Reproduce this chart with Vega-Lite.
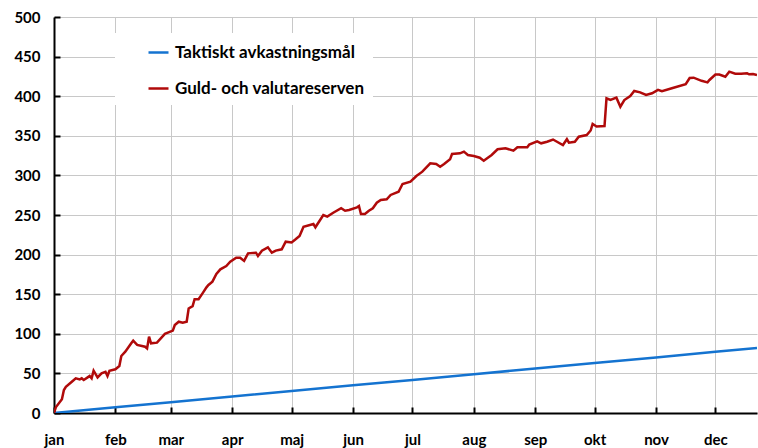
{
  "$schema": "https://vega.github.io/schema/vega-lite/v6.json",
  "width": 703,
  "height": 396,
  "autosize": {"type": "none"},
  "padding": {"left": 54, "top": 17, "right": 1, "bottom": 35},
  "background": "white",
  "config": {
    "view": {"stroke": null},
    "font": "Lato",
    "axis": {
      "labelFont": "Lato",
      "labelFontWeight": "bold",
      "labelFontSize": 15,
      "labelColor": "black",
      "domainColor": "black",
      "domainWidth": 2,
      "tickColor": "black",
      "tickWidth": 2,
      "tickSize": -6,
      "gridColor": "#c8c8c8",
      "gridWidth": 1,
      "title": null
    }
  },
  "data": {
    "values": [
      {"date": "2011-01-01", "value": 0, "series": "Taktiskt avkastningsmål"},
      {"date": "2011-02-01", "value": 7.2, "series": "Taktiskt avkastningsmål"},
      {"date": "2011-03-01", "value": 13.6, "series": "Taktiskt avkastningsmål"},
      {"date": "2011-04-01", "value": 20.8, "series": "Taktiskt avkastningsmål"},
      {"date": "2011-05-01", "value": 27.7, "series": "Taktiskt avkastningsmål"},
      {"date": "2011-06-01", "value": 34.9, "series": "Taktiskt avkastningsmål"},
      {"date": "2011-07-01", "value": 41.8, "series": "Taktiskt avkastningsmål"},
      {"date": "2011-08-01", "value": 49.0, "series": "Taktiskt avkastningsmål"},
      {"date": "2011-09-01", "value": 56.1, "series": "Taktiskt avkastningsmål"},
      {"date": "2011-10-01", "value": 63.1, "series": "Taktiskt avkastningsmål"},
      {"date": "2011-11-01", "value": 70.2, "series": "Taktiskt avkastningsmål"},
      {"date": "2011-12-01", "value": 77.2, "series": "Taktiskt avkastningsmål"},
      {"date": "2011-12-22", "value": 82, "series": "Taktiskt avkastningsmål"},
      {"date": "2011-01-01", "value": 0, "series": "Guld- och valutareserven"},
      {"date": "2011-01-02", "value": 7.6, "series": "Guld- och valutareserven"},
      {"date": "2011-01-05", "value": 17.3, "series": "Guld- och valutareserven"},
      {"date": "2011-01-06", "value": 29, "series": "Guld- och valutareserven"},
      {"date": "2011-01-07", "value": 33, "series": "Guld- och valutareserven"},
      {"date": "2011-01-10", "value": 39.5, "series": "Guld- och valutareserven"},
      {"date": "2011-01-12", "value": 43.8, "series": "Guld- och valutareserven"},
      {"date": "2011-01-14", "value": 42.5, "series": "Guld- och valutareserven"},
      {"date": "2011-01-15", "value": 43.8, "series": "Guld- och valutareserven"},
      {"date": "2011-01-16", "value": 41.7, "series": "Guld- och valutareserven"},
      {"date": "2011-01-18", "value": 45, "series": "Guld- och valutareserven"},
      {"date": "2011-01-19", "value": 46.7, "series": "Guld- och valutareserven"},
      {"date": "2011-01-20", "value": 43.8, "series": "Guld- och valutareserven"},
      {"date": "2011-01-21", "value": 53.4, "series": "Guld- och valutareserven"},
      {"date": "2011-01-23", "value": 45, "series": "Guld- och valutareserven"},
      {"date": "2011-01-25", "value": 50, "series": "Guld- och valutareserven"},
      {"date": "2011-01-27", "value": 52, "series": "Guld- och valutareserven"},
      {"date": "2011-01-28", "value": 46.7, "series": "Guld- och valutareserven"},
      {"date": "2011-01-29", "value": 53.4, "series": "Guld- och valutareserven"},
      {"date": "2011-02-01", "value": 55.2, "series": "Guld- och valutareserven"},
      {"date": "2011-02-03", "value": 59.3, "series": "Guld- och valutareserven"},
      {"date": "2011-02-04", "value": 72, "series": "Guld- och valutareserven"},
      {"date": "2011-02-06", "value": 77.4, "series": "Guld- och valutareserven"},
      {"date": "2011-02-09", "value": 88, "series": "Guld- och valutareserven"},
      {"date": "2011-02-10", "value": 91.3, "series": "Guld- och valutareserven"},
      {"date": "2011-02-12", "value": 85.9, "series": "Guld- och valutareserven"},
      {"date": "2011-02-16", "value": 83.7, "series": "Guld- och valutareserven"},
      {"date": "2011-02-17", "value": 81.5, "series": "Guld- och valutareserven"},
      {"date": "2011-02-18", "value": 96.3, "series": "Guld- och valutareserven"},
      {"date": "2011-02-19", "value": 88, "series": "Guld- och valutareserven"},
      {"date": "2011-02-22", "value": 88.8, "series": "Guld- och valutareserven"},
      {"date": "2011-02-26", "value": 100, "series": "Guld- och valutareserven"},
      {"date": "2011-03-02", "value": 104, "series": "Guld- och valutareserven"},
      {"date": "2011-03-03", "value": 111, "series": "Guld- och valutareserven"},
      {"date": "2011-03-05", "value": 115.3, "series": "Guld- och valutareserven"},
      {"date": "2011-03-07", "value": 114, "series": "Guld- och valutareserven"},
      {"date": "2011-03-09", "value": 115.3, "series": "Guld- och valutareserven"},
      {"date": "2011-03-10", "value": 132, "series": "Guld- och valutareserven"},
      {"date": "2011-03-12", "value": 135, "series": "Guld- och valutareserven"},
      {"date": "2011-03-13", "value": 143.6, "series": "Guld- och valutareserven"},
      {"date": "2011-03-15", "value": 143.6, "series": "Guld- och valutareserven"},
      {"date": "2011-03-17", "value": 151, "series": "Guld- och valutareserven"},
      {"date": "2011-03-19", "value": 158.7, "series": "Guld- och valutareserven"},
      {"date": "2011-03-20", "value": 161.6, "series": "Guld- och valutareserven"},
      {"date": "2011-03-22", "value": 165.8, "series": "Guld- och valutareserven"},
      {"date": "2011-03-24", "value": 175.5, "series": "Guld- och valutareserven"},
      {"date": "2011-03-26", "value": 181.4, "series": "Guld- och valutareserven"},
      {"date": "2011-03-29", "value": 185.6, "series": "Guld- och valutareserven"},
      {"date": "2011-03-31", "value": 191, "series": "Guld- och valutareserven"},
      {"date": "2011-04-03", "value": 196, "series": "Guld- och valutareserven"},
      {"date": "2011-04-05", "value": 196, "series": "Guld- och valutareserven"},
      {"date": "2011-04-07", "value": 192, "series": "Guld- och valutareserven"},
      {"date": "2011-04-09", "value": 201.6, "series": "Guld- och valutareserven"},
      {"date": "2011-04-13", "value": 202.4, "series": "Guld- och valutareserven"},
      {"date": "2011-04-14", "value": 198.2, "series": "Guld- och valutareserven"},
      {"date": "2011-04-16", "value": 205, "series": "Guld- och valutareserven"},
      {"date": "2011-04-19", "value": 209.2, "series": "Guld- och valutareserven"},
      {"date": "2011-04-21", "value": 202.4, "series": "Guld- och valutareserven"},
      {"date": "2011-04-23", "value": 205, "series": "Guld- och valutareserven"},
      {"date": "2011-04-26", "value": 206.7, "series": "Guld- och valutareserven"},
      {"date": "2011-04-28", "value": 216.3, "series": "Guld- och valutareserven"},
      {"date": "2011-05-01", "value": 215.3, "series": "Guld- och valutareserven"},
      {"date": "2011-05-03", "value": 219.3, "series": "Guld- och valutareserven"},
      {"date": "2011-05-05", "value": 223.5, "series": "Guld- och valutareserven"},
      {"date": "2011-05-07", "value": 235.2, "series": "Guld- och valutareserven"},
      {"date": "2011-05-12", "value": 238.6, "series": "Guld- och valutareserven"},
      {"date": "2011-05-13", "value": 234.5, "series": "Guld- och valutareserven"},
      {"date": "2011-05-17", "value": 250, "series": "Guld- och valutareserven"},
      {"date": "2011-05-19", "value": 247.9, "series": "Guld- och valutareserven"},
      {"date": "2011-05-22", "value": 252.9, "series": "Guld- och valutareserven"},
      {"date": "2011-05-26", "value": 258.5, "series": "Guld- och valutareserven"},
      {"date": "2011-05-28", "value": 255.4, "series": "Guld- och valutareserven"},
      {"date": "2011-05-30", "value": 256.3, "series": "Guld- och valutareserven"},
      {"date": "2011-06-03", "value": 259.7, "series": "Guld- och valutareserven"},
      {"date": "2011-06-04", "value": 261.4, "series": "Guld- och valutareserven"},
      {"date": "2011-06-05", "value": 251.3, "series": "Guld- och valutareserven"},
      {"date": "2011-06-07", "value": 251.3, "series": "Guld- och valutareserven"},
      {"date": "2011-06-09", "value": 255.4, "series": "Guld- och valutareserven"},
      {"date": "2011-06-11", "value": 258.5, "series": "Guld- och valutareserven"},
      {"date": "2011-06-13", "value": 265.5, "series": "Guld- och valutareserven"},
      {"date": "2011-06-15", "value": 269, "series": "Guld- och valutareserven"},
      {"date": "2011-06-18", "value": 269.8, "series": "Guld- och valutareserven"},
      {"date": "2011-06-20", "value": 275.3, "series": "Guld- och valutareserven"},
      {"date": "2011-06-24", "value": 279.4, "series": "Guld- och valutareserven"},
      {"date": "2011-06-26", "value": 289.1, "series": "Guld- och valutareserven"},
      {"date": "2011-06-30", "value": 292, "series": "Guld- och valutareserven"},
      {"date": "2011-07-03", "value": 299.2, "series": "Guld- och valutareserven"},
      {"date": "2011-07-06", "value": 304.7, "series": "Guld- och valutareserven"},
      {"date": "2011-07-10", "value": 315.3, "series": "Guld- och valutareserven"},
      {"date": "2011-07-13", "value": 314.4, "series": "Guld- och valutareserven"},
      {"date": "2011-07-15", "value": 311, "series": "Guld- och valutareserven"},
      {"date": "2011-07-17", "value": 314.4, "series": "Guld- och valutareserven"},
      {"date": "2011-07-20", "value": 320.3, "series": "Guld- och valutareserven"},
      {"date": "2011-07-21", "value": 327, "series": "Guld- och valutareserven"},
      {"date": "2011-07-25", "value": 327.9, "series": "Guld- och valutareserven"},
      {"date": "2011-07-27", "value": 330, "series": "Guld- och valutareserven"},
      {"date": "2011-07-29", "value": 325.8, "series": "Guld- och valutareserven"},
      {"date": "2011-08-01", "value": 324.5, "series": "Guld- och valutareserven"},
      {"date": "2011-08-04", "value": 322.3, "series": "Guld- och valutareserven"},
      {"date": "2011-08-06", "value": 318.6, "series": "Guld- och valutareserven"},
      {"date": "2011-08-10", "value": 325.8, "series": "Guld- och valutareserven"},
      {"date": "2011-08-13", "value": 333, "series": "Guld- och valutareserven"},
      {"date": "2011-08-17", "value": 334.2, "series": "Guld- och valutareserven"},
      {"date": "2011-08-21", "value": 331.2, "series": "Guld- och valutareserven"},
      {"date": "2011-08-23", "value": 335.5, "series": "Guld- och valutareserven"},
      {"date": "2011-08-28", "value": 335.5, "series": "Guld- och valutareserven"},
      {"date": "2011-08-29", "value": 339, "series": "Guld- och valutareserven"},
      {"date": "2011-09-02", "value": 343, "series": "Guld- och valutareserven"},
      {"date": "2011-09-04", "value": 340.5, "series": "Guld- och valutareserven"},
      {"date": "2011-09-07", "value": 342.5, "series": "Guld- och valutareserven"},
      {"date": "2011-09-10", "value": 345.3, "series": "Guld- och valutareserven"},
      {"date": "2011-09-12", "value": 342.5, "series": "Guld- och valutareserven"},
      {"date": "2011-09-15", "value": 338.4, "series": "Guld- och valutareserven"},
      {"date": "2011-09-17", "value": 345.7, "series": "Guld- och valutareserven"},
      {"date": "2011-09-18", "value": 341.3, "series": "Guld- och valutareserven"},
      {"date": "2011-09-21", "value": 342.5, "series": "Guld- och valutareserven"},
      {"date": "2011-09-23", "value": 348.9, "series": "Guld- och valutareserven"},
      {"date": "2011-09-27", "value": 351, "series": "Guld- och valutareserven"},
      {"date": "2011-09-29", "value": 356.7, "series": "Guld- och valutareserven"},
      {"date": "2011-09-30", "value": 364.9, "series": "Guld- och valutareserven"},
      {"date": "2011-10-02", "value": 361.7, "series": "Guld- och valutareserven"},
      {"date": "2011-10-06", "value": 362.4, "series": "Guld- och valutareserven"},
      {"date": "2011-10-07", "value": 397.3, "series": "Guld- och valutareserven"},
      {"date": "2011-10-09", "value": 395.2, "series": "Guld- och valutareserven"},
      {"date": "2011-10-12", "value": 398.1, "series": "Guld- och valutareserven"},
      {"date": "2011-10-14", "value": 386.7, "series": "Guld- och valutareserven"},
      {"date": "2011-10-16", "value": 395.2, "series": "Guld- och valutareserven"},
      {"date": "2011-10-19", "value": 400.3, "series": "Guld- och valutareserven"},
      {"date": "2011-10-21", "value": 406.6, "series": "Guld- och valutareserven"},
      {"date": "2011-10-24", "value": 404.9, "series": "Guld- och valutareserven"},
      {"date": "2011-10-27", "value": 401.5, "series": "Guld- och valutareserven"},
      {"date": "2011-10-30", "value": 403.7, "series": "Guld- och valutareserven"},
      {"date": "2011-11-02", "value": 408, "series": "Guld- och valutareserven"},
      {"date": "2011-11-04", "value": 406.2, "series": "Guld- och valutareserven"},
      {"date": "2011-11-09", "value": 410, "series": "Guld- och valutareserven"},
      {"date": "2011-11-16", "value": 415.2, "series": "Guld- och valutareserven"},
      {"date": "2011-11-18", "value": 423, "series": "Guld- och valutareserven"},
      {"date": "2011-11-20", "value": 423.4, "series": "Guld- och valutareserven"},
      {"date": "2011-11-24", "value": 419.4, "series": "Guld- och valutareserven"},
      {"date": "2011-11-27", "value": 417.5, "series": "Guld- och valutareserven"},
      {"date": "2011-11-28", "value": 420.5, "series": "Guld- och valutareserven"},
      {"date": "2011-12-01", "value": 427.4, "series": "Guld- och valutareserven"},
      {"date": "2011-12-03", "value": 427.4, "series": "Guld- och valutareserven"},
      {"date": "2011-12-06", "value": 424.6, "series": "Guld- och valutareserven"},
      {"date": "2011-12-08", "value": 431, "series": "Guld- och valutareserven"},
      {"date": "2011-12-11", "value": 428.4, "series": "Guld- och valutareserven"},
      {"date": "2011-12-14", "value": 428.4, "series": "Guld- och valutareserven"},
      {"date": "2011-12-17", "value": 428.9, "series": "Guld- och valutareserven"},
      {"date": "2011-12-18", "value": 427.7, "series": "Guld- och valutareserven"},
      {"date": "2011-12-20", "value": 428, "series": "Guld- och valutareserven"},
      {"date": "2011-12-22", "value": 426.8, "series": "Guld- och valutareserven"}
    ]
  },
  "mark": {"type": "line", "strokeWidth": 2.5, "clip": true},
  "encoding": {
    "x": {
      "field": "date",
      "type": "temporal",
      "scale": {
        "type": "utc",
        "domain": [
          {"year": 2011, "month": 1, "date": 1, "utc": true},
          {"year": 2011, "month": 12, "date": 22, "utc": true}
        ]
      },
      "axis": {
        "values": [
          {"year": 2011, "month": 1, "date": 1, "utc": true},
          {"year": 2011, "month": 2, "date": 1, "utc": true},
          {"year": 2011, "month": 3, "date": 1, "utc": true},
          {"year": 2011, "month": 4, "date": 1, "utc": true},
          {"year": 2011, "month": 5, "date": 1, "utc": true},
          {"year": 2011, "month": 6, "date": 1, "utc": true},
          {"year": 2011, "month": 7, "date": 1, "utc": true},
          {"year": 2011, "month": 8, "date": 1, "utc": true},
          {"year": 2011, "month": 9, "date": 1, "utc": true},
          {"year": 2011, "month": 10, "date": 1, "utc": true},
          {"year": 2011, "month": 11, "date": 1, "utc": true},
          {"year": 2011, "month": 12, "date": 1, "utc": true}
        ],
        "labelExpr": "['jan','feb','mar','apr','maj','jun','jul','aug','sep','okt','nov','dec'][utcmonth(datum.value)]",
        "labelFlush": false,
        "labelOverlap": false,
        "labelPadding": 25,
        "grid": true
      }
    },
    "y": {
      "field": "value",
      "type": "quantitative",
      "scale": {"domain": [0, 500], "nice": false},
      "axis": {
        "values": [0, 50, 100, 150, 200, 250, 300, 350, 400, 450, 500],
        "labelPadding": 20,
        "grid": true
      }
    },
    "color": {
      "field": "series",
      "type": "nominal",
      "scale": {
        "domain": ["Taktiskt avkastningsmål", "Guld- och valutareserven"],
        "range": ["#1473D0", "#B00A0A"]
      },
      "legend": {
        "title": null,
        "orient": "none",
        "legendX": 61,
        "legendY": 16,
        "fillColor": "white",
        "padding": 8,
        "rowPadding": 16,
        "symbolType": "stroke",
        "symbolSize": 400,
        "symbolStrokeWidth": 2.5,
        "symbolOffset": 24,
        "labelOffset": 5,
        "labelFont": "Lato",
        "labelFontWeight": "bold",
        "labelFontSize": 17,
        "labelColor": "black",
        "labelLimit": 400
      }
    }
  }
}
